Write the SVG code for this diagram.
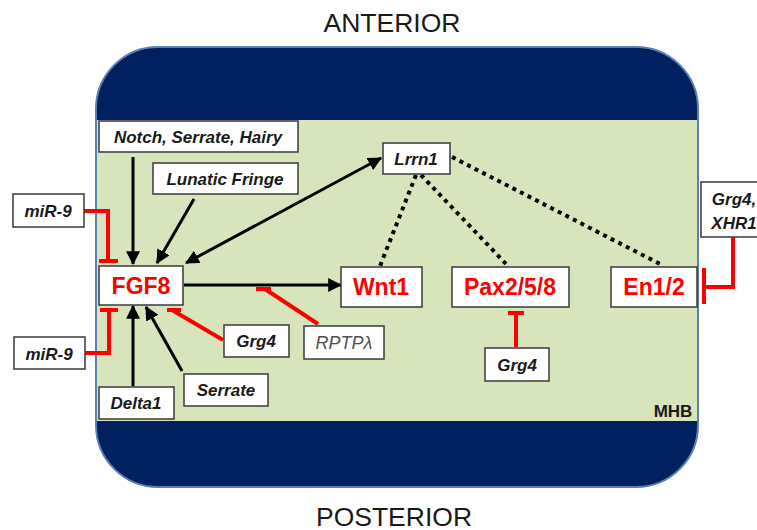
<svg xmlns="http://www.w3.org/2000/svg" width="757" height="530" viewBox="0 0 757 530">
  <style>
    .box { fill: #ffffff; stroke: #3a3a3a; stroke-width: 1.5; }
    .lbl { font-family: "Liberation Sans", Arial, sans-serif; font-size: 17px; font-weight: bold; font-style: italic; fill: #1a1a1a; text-anchor: middle; }
    .gene { font-family: "Liberation Sans", Arial, sans-serif; font-size: 23px; font-weight: bold; fill: #ff0000; text-anchor: middle; }
    .axis { font-family: "Liberation Sans", Arial, sans-serif; font-size: 26.5px; fill: #1a1a1a; text-anchor: middle; }
    .act { fill: none; stroke: #000000; stroke-width: 3; }
    .inh { fill: none; stroke: #ff0000; stroke-width: 4; }
    .dot { fill: none; stroke: #000000; stroke-width: 4; stroke-dasharray: 4 4.5; }
  </style>
  <defs>
    <marker id="arrow" viewBox="0 0 12 12" markerUnits="userSpaceOnUse" markerWidth="14" markerHeight="14" refX="11" refY="6" orient="auto-start-reverse">
      <path d="M0,0 L12,6 L0,12 z" fill="#000000"/>
    </marker>
  </defs>

  <!-- region frame: anterior / posterior bands with MHB in between -->
  <g id="frame">
    <rect x="96" y="47" width="602" height="440" rx="62" ry="62" fill="#002060" stroke="#5a80b0" stroke-width="2"/>
    <rect x="97" y="120" width="600" height="301" fill="#d8e4bc"/>
    <text x="673" y="417" font-family="Liberation Sans, Arial, sans-serif" font-size="17" font-weight="bold" fill="#1a1a1a" text-anchor="middle">MHB</text>
  </g>
  <text class="axis" x="392" y="32">ANTERIOR</text>
  <text class="axis" x="394" y="526">POSTERIOR</text>

  <!-- connectors -->
  <g id="connectors">
    <path class="act" d="M133,157 L133,264" marker-end="url(#arrow)"/>
    <path class="act" d="M194,199 L157,263" marker-end="url(#arrow)"/>
    <path class="act" d="M186,263 L381,158" marker-start="url(#arrow)" marker-end="url(#arrow)"/>
    <path class="act" d="M184,285 L341,285" marker-end="url(#arrow)"/>
    <path class="act" d="M133,386 L133,306" marker-end="url(#arrow)"/>
    <path class="act" d="M182,371 L146,307" marker-end="url(#arrow)"/>

    <path class="inh" d="M84,211 H108 V261 M99,261 H118"/>
    <path class="inh" d="M85,353 H109 V310 M100,310 H118"/>
    <path class="inh" d="M223,340 L172,310 M167,310 H181"/>
    <path class="inh" d="M318,324 L265,289 M256,289 H271"/>
    <path class="inh" d="M516,347 V313 M508,313 H524"/>
    <path class="inh" d="M733,237 V287 H704 M704,268 V304"/>

    <path class="dot" d="M452,157 L662,265"/>
    <path class="dot" d="M416,175 L380,266"/>
    <path class="dot" d="M421,175 L508,266"/>
  </g>

  <!-- nodes -->
  <g id="notch">
    <rect class="box" x="99" y="121" width="199" height="31"/>
    <text class="lbl" x="198" y="143">Notch, Serrate, Hairy</text>
  </g>
  <g id="lunatic-fringe">
    <rect class="box" x="153" y="163" width="145" height="31"/>
    <text class="lbl" x="225" y="185">Lunatic Fringe</text>
  </g>
  <g id="mir9-top">
    <rect class="box" x="13" y="194" width="71" height="33"/>
    <text class="lbl" x="48" y="217">miR-9</text>
  </g>
  <g id="fgf8">
    <rect class="box" x="99" y="266" width="84" height="39"/>
    <text class="gene" x="141" y="294">FGF8</text>
  </g>
  <g id="mir9-bottom">
    <rect class="box" x="14" y="337" width="71" height="32"/>
    <text class="lbl" x="49" y="360">miR-9</text>
  </g>
  <g id="grg4-left">
    <rect class="box" x="224" y="325" width="65" height="32"/>
    <text class="lbl" x="256" y="347">Grg4</text>
  </g>
  <g id="serrate">
    <rect class="box" x="184" y="374" width="84" height="32"/>
    <text class="lbl" x="226" y="396">Serrate</text>
  </g>
  <g id="delta1">
    <rect class="box" x="99" y="387" width="75" height="32"/>
    <text class="lbl" x="136" y="409">Delta1</text>
  </g>
  <g id="lrrn1">
    <rect class="box" x="383" y="143" width="67" height="31"/>
    <text class="lbl" x="416" y="165">Lrrn1</text>
  </g>
  <g id="wnt1">
    <rect class="box" x="341" y="267" width="81" height="40"/>
    <text class="gene" x="381" y="295">Wnt1</text>
  </g>
  <g id="pax258">
    <rect class="box" x="452" y="267" width="117" height="40"/>
    <text class="gene" x="510" y="295">Pax2/5/8</text>
  </g>
  <g id="en12">
    <rect class="box" x="611" y="267" width="86" height="40"/>
    <text class="gene" x="654" y="295">En1/2</text>
  </g>
  <g id="rptp">
    <rect class="box" x="304" y="326" width="80" height="33"/>
    <text x="344" y="349" font-family="Liberation Sans, Arial, sans-serif" font-size="18" font-style="italic" fill="#505050" text-anchor="middle">RPTPλ</text>
  </g>
  <g id="grg4-mid">
    <rect class="box" x="485" y="348" width="64" height="33"/>
    <text class="lbl" x="517" y="371">Grg4</text>
  </g>
  <g id="grg4-xhr1">
    <rect class="box" x="701" y="182" width="70" height="55"/>
    <text class="lbl" x="734" y="205">Grg4,</text>
    <text class="lbl" x="734" y="229">XHR1</text>
  </g>
</svg>
